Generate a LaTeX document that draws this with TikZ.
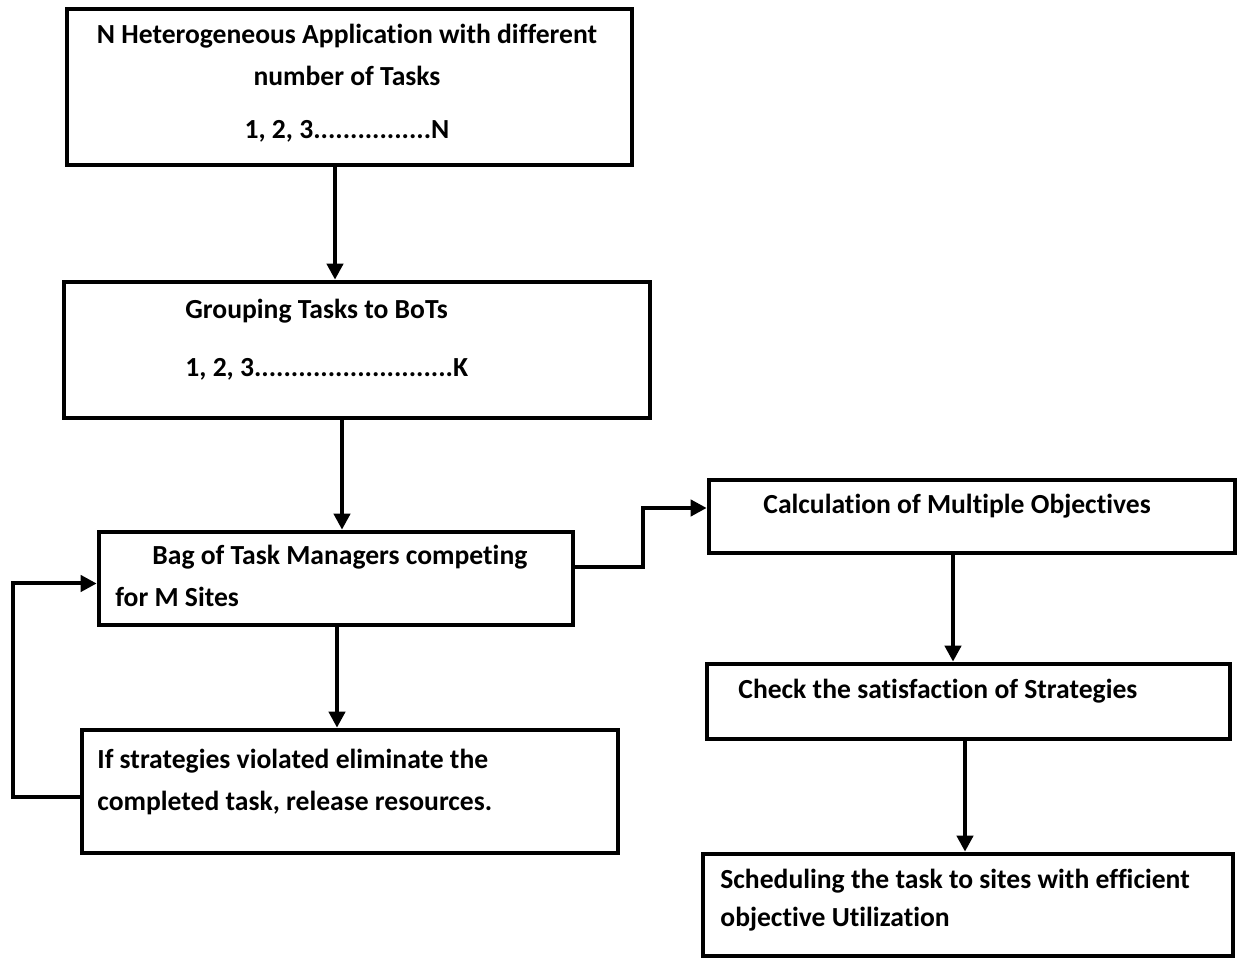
\documentclass[tikz,border=0pt]{standalone}
\usepackage{fontspec}
\setmainfont{Carlito}[Ligatures=NoCommon]
\usetikzlibrary{arrows.meta,calc}
\tikzset{
  box/.style={draw, line width=2.3pt, rectangle, inner sep=0pt},
  txt/.style={font=\bfseries\fontsize{13.8}{15}\selectfont, inner sep=0pt, anchor=west},
  txtc/.style={font=\bfseries\fontsize{13.8}{15}\selectfont, inner sep=0pt},
  arr/.style={line width=2pt, -{Triangle[length=8pt,width=8pt]}},
}
\begin{document}
\begin{tikzpicture}[x=0.5pt,y=-0.5pt]
\useasboundingbox (0,0) rectangle (1238,961);
% boxes
\node[box, minimum width=565pt*0.5, minimum height=156pt*0.5] (b1) at (349.5,87) {};
\node[box, minimum width=586pt*0.5, minimum height=136pt*0.5] (b2) at (357,350) {};
\node[box, minimum width=474pt*0.5, minimum height=93pt*0.5] (b3) at (336,578.5) {};
\node[box, minimum width=536pt*0.5, minimum height=123pt*0.5] (b4) at (350,791.5) {};
\node[box, minimum width=526pt*0.5, minimum height=73pt*0.5] (b5) at (972,516.5) {};
\node[box, minimum width=523pt*0.5, minimum height=75pt*0.5] (b6) at (968.5,701.5) {};
\node[box, minimum width=530pt*0.5, minimum height=102pt*0.5] (b7) at (968,905) {};
% texts
\node[txtc] (t1a) at (347,36) {N Heterogeneous Application with different};
\node[txtc] (t1b) at (347,76) {number of Tasks};
\node[txtc] (t1c) at (347,131) {1, 2, 3................N};
\node[txt] (t2a) at (185,311) {Grouping Tasks to BoTs};
\node[txt] (t2b) at (185,369) {1, 2, 3...........................K};
\node[txt] (t3a) at (152,557) {Bag of Task Managers competing};
\node[txt] (t3b) at (115,597) {for M Sites};
\node[txt] (t4a) at (97,761) {If strategies violated eliminate the};
\node[txt] (t4b) at (97,803) {completed task, release resources.};
\node[txt] (t5) at (763,506) {Calculation of Multiple Objectives};
\node[txt] (t6) at (738,691) {Check the satisfaction of Strategies};
\node[txt] (t7a) at (720,881) {Scheduling the task to sites with efficient};
\node[txt] (t7b) at (720,919) {objective Utilization};
% connectors
\draw[arr] ($(b1.south)+(-14.5,0)$) -- ($(b2.north)+(-22,0)$);
\draw[arr] ($(b2.south)+(-15,0)$) -- ($(b3.north)+(6,0)$);
\draw[arr] ($(b3.south)+(1,0)$) -- ($(b4.north)+(-13,0)$);
\draw[arr] ($(b4.west)+(0,5.5)$) -- ++(-67,0) |- ($(b3.west)+(0,5)$);
\draw[arr] ($(b3.east)+(0,-11.5)$) -- ++(68,0) |- ($(b5.west)+(0,-8.5)$);
\draw[arr] ($(b5.south)+(-19,0)$) -- ($(b6.north)+(-15.5,0)$);
\draw[arr] ($(b6.south)+(-3.5,0)$) -- ($(b7.north)+(-3,0)$);
\end{tikzpicture}
\end{document}
